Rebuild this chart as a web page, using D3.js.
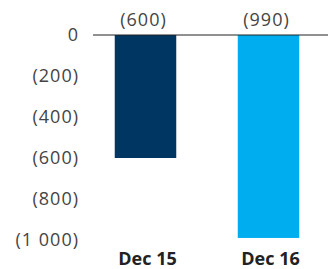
<!DOCTYPE html>
<html>
<head>
<meta charset="utf-8">
<script src="https://cdn.jsdelivr.net/npm/d3@7"></script>
<style>
  body { margin: 0; background: #fff; }
  svg text { font-family: "Open Sans", sans-serif; }
</style>
</head>
<body>
<div id="chart"></div>
<script>
var categories = ["Dec 15", "Dec 16"];
var values = [-600, -990];
var valueLabels = ["(600)", "(990)"];
var colors = ["#003762", "#00aeef"];
var tickValues = [0, -200, -400, -600, -800, -1000];
var tickLabels = ["0", "(200)", "(400)", "(600)", "(800)", "(1 000)"];

var width = 328, height = 269;

var svg = d3.select("#chart")
  .append("svg")
    .attr("width", width)
    .attr("height", height);

// x: band per category
var x = d3.scaleBand()
  .domain(categories)
  .range([84, 330])
  .paddingInner(0.5)
  .paddingOuter(0.25);

var y = d3.scaleLinear()
  .domain([-1000, 0])
  .range([240, 35]);

// y tick labels
svg.append("g")
  .selectAll("text")
  .data(tickValues)
  .enter().append("text")
    .attr("x", 79)
    .attr("y", function(d) { return y(d); })
    .attr("dy", "0.33em")
    .attr("text-anchor", "end")
    .attr("font-size", "18px")
    .attr("letter-spacing", "1px")
    .attr("fill", "#444")
    .text(function(d, i) { return tickLabels[i]; });

// bars
svg.append("g")
  .selectAll("rect")
  .data(values)
  .enter().append("rect")
    .attr("x", function(d, i) { return x(categories[i]); })
    .attr("y", y(0))
    .attr("width", x.bandwidth())
    .attr("height", function(d) { return y(d) - y(0); })
    .attr("fill", function(d, i) { return colors[i]; });

// zero line
svg.append("line")
  .attr("x1", 93)
  .attr("x2", width)
  .attr("y1", y(0))
  .attr("y2", y(0))
  .attr("stroke", "#222")
  .attr("stroke-width", 1);

// value labels above zero line
svg.append("g")
  .selectAll("text")
  .data(values)
  .enter().append("text")
    .attr("x", function(d, i) { return x(categories[i]) + x.bandwidth() / 2 - 2; })
    .attr("y", 26)
    .attr("text-anchor", "middle")
    .attr("font-size", "18px")
    .attr("letter-spacing", "1px")
    .attr("fill", "#444")
    .text(function(d, i) { return valueLabels[i]; });

// category labels
svg.append("g")
  .selectAll("text")
  .data(categories)
  .enter().append("text")
    .attr("x", function(d) { return x(d) + x.bandwidth() / 2 + 2; })
    .attr("y", 265)
    .attr("text-anchor", "middle")
    .attr("font-size", "18px")
    .attr("font-weight", "bold")
    .attr("fill", "#222")
    .text(function(d) { return d; });
</script>
</body>
</html>
